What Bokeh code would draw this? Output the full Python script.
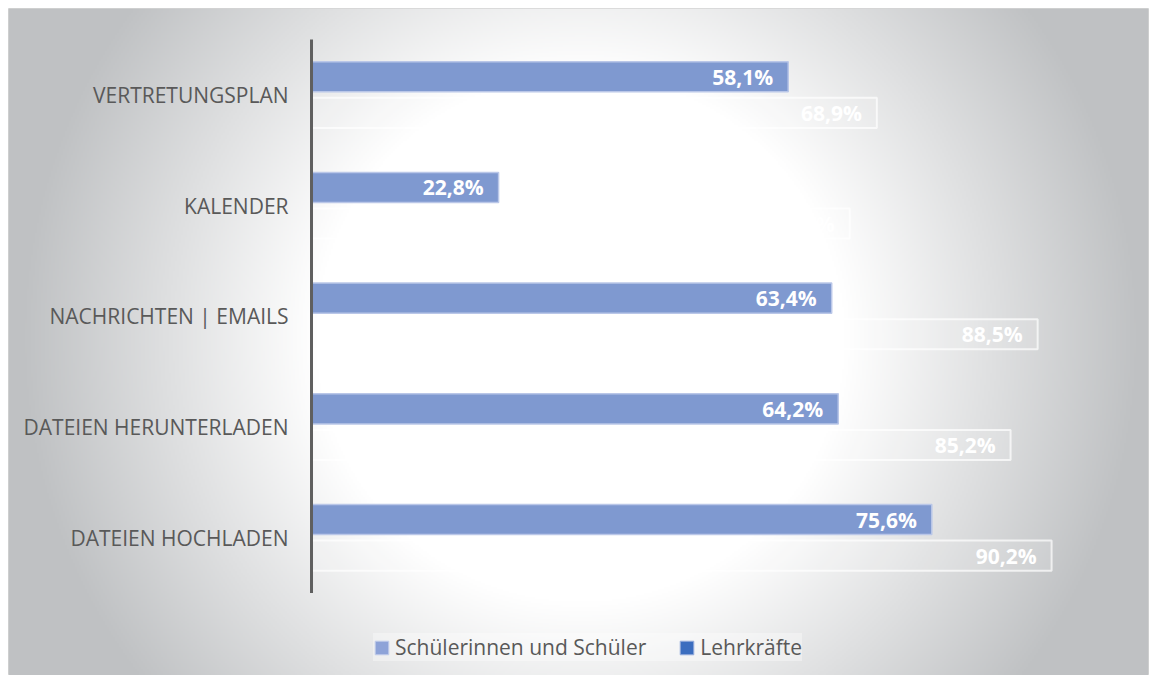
import numpy as np
from bokeh.plotting import figure
from bokeh.models import ColumnDataSource, Range1d, Legend, LegendItem
from bokeh.transform import dodge
from bokeh.core.properties import value
from bokeh.embed import file_html
from bokeh.resources import INLINE

# ---- data ----
categories = ["VERTRETUNGSPLAN", "KALENDER", "NACHRICHTEN | EMAILS",
              "DATEIEN HERUNTERLADEN", "DATEIEN HOCHLADEN"]
schueler = [58.1, 22.8, 63.4, 64.2, 75.6]
lehrkraefte = [68.9, 65.6, 88.5, 85.2, 90.2]
series_names = ["Schülerinnen und Schüler", "Lehrkräfte"]

def fmt(v):
    return f"{v:.1f}".replace(".", ",") + "%"

FW, FH = 1140, 667          # frame size
ML, MT, MR, MB = 8, 8, 2, 0  # outer margins
FONT = "Open Sans"
FS = "21px"
n = len(categories)
ypos = [-i for i in range(n)]

src = ColumnDataSource(dict(
    cat=categories, y=ypos,
    s=schueler, l=lehrkraefte,
    s_lab=[fmt(v) for v in schueler],
    l_lab=[fmt(v) for v in lehrkraefte],
))

x0, x1 = -36.93, 102.01
y0, y1 = -5.246, 0.78

p = figure(width=FW + ML + MR, height=FH + MT + MB, output_backend="svg",
           toolbar_location=None,
           x_range=Range1d(x0, x1), y_range=Range1d(y0, y1),
           x_axis_location=None, y_axis_location=None,
           min_border_left=ML, min_border_top=MT,
           min_border_right=MR, min_border_bottom=MB)
p.grid.visible = False
p.outline_line_color = "#d4d4d4"
p.background_fill_color = "white"
p.border_fill_color = "white"

# ---- radial gradient background (style only) ----
gw, gh = FW // 2, FH // 2 + 1
gx = (np.arange(gw) + 0.5) * 2
gy = (np.arange(gh) + 0.5) * 2
XX, YY = np.meshgrid(gx, gy)
d = np.sqrt((XX - 572) ** 2 + (YY - 330) ** 2)
t = np.clip((d - 265) / 295.0, 0, 1)
end = np.array([191, 193, 195])
rgb = (255 * (1 - t[..., None]) + end * t[..., None]).astype(np.uint32)
img = np.empty((gh, gw), dtype=np.uint32)
view = img.view(dtype=np.uint8).reshape((gh, gw, 4))
view[..., 0] = rgb[..., 0]
view[..., 1] = rgb[..., 1]
view[..., 2] = rgb[..., 2]
view[..., 3] = 255
img = img[::-1]
p.image_rgba(image=[img], x=x0, y=y0, dw=x1 - x0, dh=y1 - y0, level="image")

off = 0.163
bh = 0.272

# Schüler bars
p.hbar(y=dodge("y", off), left=0, right="s", height=bh, source=src,
       fill_color="#7F99D0", line_color="#BAC7E8", line_width=1.5)
# Lehrkräfte bars
p.hbar(y=dodge("y", -off), left=0, right="l", height=bh, source=src,
       fill_color="white", fill_alpha=0.12, line_color="white",
       line_alpha=0.7, line_width=2)

# data labels
p.text(x="s", y=dodge("y", off), text="s_lab", source=src, x_offset=-15,
       text_align="right", text_baseline="middle", text_color="white",
       text_font=value(FONT), text_font_style="bold", text_font_size=FS)
p.text(x="l", y=dodge("y", -off), text="l_lab", source=src, x_offset=-15,
       text_align="right", text_baseline="middle", text_color="white",
       text_font=value(FONT), text_font_style="bold", text_font_size=FS)

# category axis line and labels
p.segment(x0=0, y0=0.5, x1=0, y1=-(n - 1) - 0.5, line_color="#5f5f5f",
          line_width=3)
p.text(x=0, y="y", text="cat", source=src, x_offset=-23,
       text_align="right", text_baseline="middle", text_color="#595959",
       text_font=value(FONT), text_font_size=FS)

# legend (bar renderers with no visible position)
nan_src = ColumnDataSource(dict(y=[np.nan], r=[np.nan]))
r1 = p.hbar(y="y", left=0, right="r", height=0.1, source=nan_src,
            fill_color="#8EA3D8", line_color="#C3CEEB", line_width=1)
r2 = p.hbar(y="y", left=0, right="r", height=0.1, source=nan_src,
            fill_color="#3B6DBF", line_color="#9AB0DD", line_width=1)
legend = Legend(items=[LegendItem(label=series_names[0], renderers=[r1]),
                       LegendItem(label=series_names[1], renderers=[r2])],
                orientation="horizontal", location=(365, 14))
legend.label_text_font = FONT
legend.label_text_font_size = FS
legend.label_text_color = "#595959"
legend.glyph_width = 17
legend.glyph_height = 17
legend.label_standoff = 5
legend.spacing = 32
legend.padding = 12
legend.background_fill_color = "white"
legend.background_fill_alpha = 0.35
legend.border_line_color = None
p.add_layout(legend, "center")

open("out.html", "w").write(file_html(p, INLINE))
